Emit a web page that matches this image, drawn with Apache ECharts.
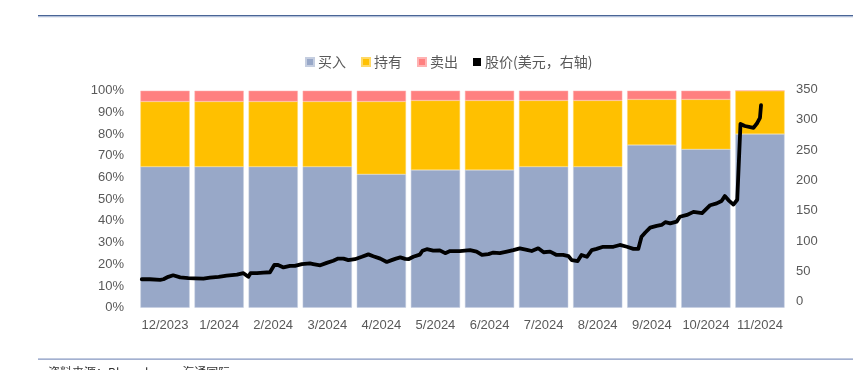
<!DOCTYPE html>
<html><head><meta charset="utf-8">
<script src="https://cdn.jsdelivr.net/npm/echarts@6/dist/echarts.min.js"></script>
<style>html,body{margin:0;padding:0;background:#fff}#c{width:853px;height:370px}</style>
</head><body><div id="c"></div>
<script>
const categories = ['12/2023','1/2024','2/2024','3/2024','4/2024','5/2024','6/2024','7/2024','8/2024','9/2024','10/2024','11/2024'];
const buyShare  = [65, 65, 65, 65, 61.5, 63.5, 63.5, 65, 65, 75, 73, 80];
const holdShare = [30, 30, 30, 30, 33.5, 32, 32, 30.5, 30.5, 21, 23, 20];
const sellShare = [5, 5, 5, 5, 5, 4.5, 4.5, 4.5, 4.5, 4, 4, 0];
const leftTicks = [0,10,20,30,40,50,60,70,80,90,100];
const rightTicks = [0,50,100,150,200,250,300,350];
// price path: position in months from start of 12/2023, price in USD
const priceMonth = [0.07,0.22,0.41,0.47,0.56,0.65,0.78,0.93,1.05,1.21,1.33,1.49,1.64,1.83,1.95,2.04,2.08,2.2,2.32,2.44,2.52,2.59,2.69,2.81,2.9,3.03,3.18,3.24,3.37,3.49,3.61,3.7,3.8,3.89,4.01,4.14,4.26,4.35,4.48,4.6,4.69,4.77,4.85,4.94,5.0,5.09,5.21,5.26,5.34,5.46,5.58,5.68,5.77,5.95,6.14,6.26,6.36,6.48,6.57,6.69,6.82,6.94,7.06,7.19,7.28,7.4,7.5,7.62,7.74,7.86,7.96,8.02,8.13,8.2,8.3,8.39,8.48,8.6,8.79,8.91,9.04,9.16,9.25,9.31,9.38,9.47,9.59,9.68,9.75,9.84,9.96,10.02,10.15,10.27,10.43,10.58,10.7,10.79,10.85,10.92,11.01,11.08,11.14,11.22,11.32,11.38,11.45,11.5,11.52];
const priceValue = [37,37,36,37,41,43.5,40,39,38.5,38,39.5,41,43,44.5,47,41,47,47,48,48.5,60.5,60.5,56.5,59,59,62,63,62,60,64,67.5,71,71,68.5,70,74,78,75,71,65.5,68.5,71,73,70.5,70,74,77.5,84,86.5,84,84.5,80,83.5,83.5,85,82.5,77,78.5,81,80,82.5,85,88,85.5,83.5,88,81.5,82.5,77,77,75,68.5,67,77,74,85,87,90.5,90.5,93.5,90.5,87,87,107,114,122,125,126.5,131,129,132,140,143,148,146,159,162,166,174,167,160,168,293,289.5,287.5,286.5,294.5,303,324];

const names = ['买入','持有','卖出','股价(美元，右轴)'];
const labelColor = '#595959';
const font = 'Liberation Sans';
const cjk = 'Noto Sans CJK SC';

const chart = echarts.init(document.getElementById('c'), null, {renderer:'canvas'});
chart.setOption({
  animation: false,
  backgroundColor: '#fff',
  legend: {
    left: 300, top: 50,
    itemWidth: 8, itemHeight: 8, itemGap: 15,
    icon: 'rect',
    data: names,
    textStyle: {color: labelColor, fontSize: 14, fontFamily: cjk, padding:[0,0,0,-1]}
  },
  grid: [
    {left: 138, right: 66, top: 90.7, height: 217},
    {left: 138, right: 66, top: 89.3, height: 212.4}
  ],
  xAxis: [
    {type:'category', gridIndex:0, data: categories,
     axisLine:{show:false}, axisTick:{show:false},
     axisLabel:{interval:0, color: labelColor, fontSize: 13, fontFamily: font, margin: 11}},
    {type:'value', gridIndex:1, min:0, max:12, show:false}
  ],
  yAxis: [
    {type:'value', gridIndex:0, min:leftTicks[0], max:leftTicks[leftTicks.length-1], interval:10,
     splitLine:{show:false}, axisLine:{show:false}, axisTick:{show:false},
     axisLabel:{color: labelColor, fontSize: 13, fontFamily: font, margin: 14, formatter: '{value}%'}},
    {type:'value', gridIndex:1, position:'right', min:rightTicks[0], max:rightTicks[rightTicks.length-1], interval:50,
     splitLine:{show:false}, axisLine:{show:false}, axisTick:{show:false},
     axisLabel:{color: labelColor, fontSize: 13, fontFamily: font, margin: 9}}
  ],
  series: [
    {name: names[0], type:'bar', stack:'s', xAxisIndex:0, yAxisIndex:0, data: buyShare,
     barCategoryGap:'9%', itemStyle:{color:'#98A8C8', borderColor:'#C5CEE0', borderWidth:0.5}},
    {name: names[1], type:'bar', stack:'s', xAxisIndex:0, yAxisIndex:0, data: holdShare,
     itemStyle:{color:'#FFC000', borderColor:'#FFD966', borderWidth:0.5}},
    {name: names[2], type:'bar', stack:'s', xAxisIndex:0, yAxisIndex:0, data: sellShare,
     itemStyle:{color:'#FF8080', borderColor:'#FFB3B3', borderWidth:0.5}},
    {name: names[3], type:'line', xAxisIndex:1, yAxisIndex:1, z:10,
     data: priceMonth.map((m,i)=>[m, priceValue[i]]),
     showSymbol:false, symbol:'none', itemStyle:{color:'#000'},
     lineStyle:{color:'#000', width:3.8, join:'round', cap:'round'}}
  ],
  graphic: [
    {type:'rect', shape:{x:38, y:15, width:815, height:1.2}, style:{fill:'#4A6596'}},
    {type:'rect', shape:{x:38, y:16.2, width:815, height:1}, style:{fill:'#A9B8D4'}},
    {type:'rect', shape:{x:38, y:358.5, width:815, height:1.2}, style:{fill:'#8496C0'}},
    {type:'text', left:48, top:366, style:{text:'资料来源：Bloomberg，海通国际', fill:'#333', fontSize:12, fontFamily:cjk}}
  ]
});
</script>
</body></html>
